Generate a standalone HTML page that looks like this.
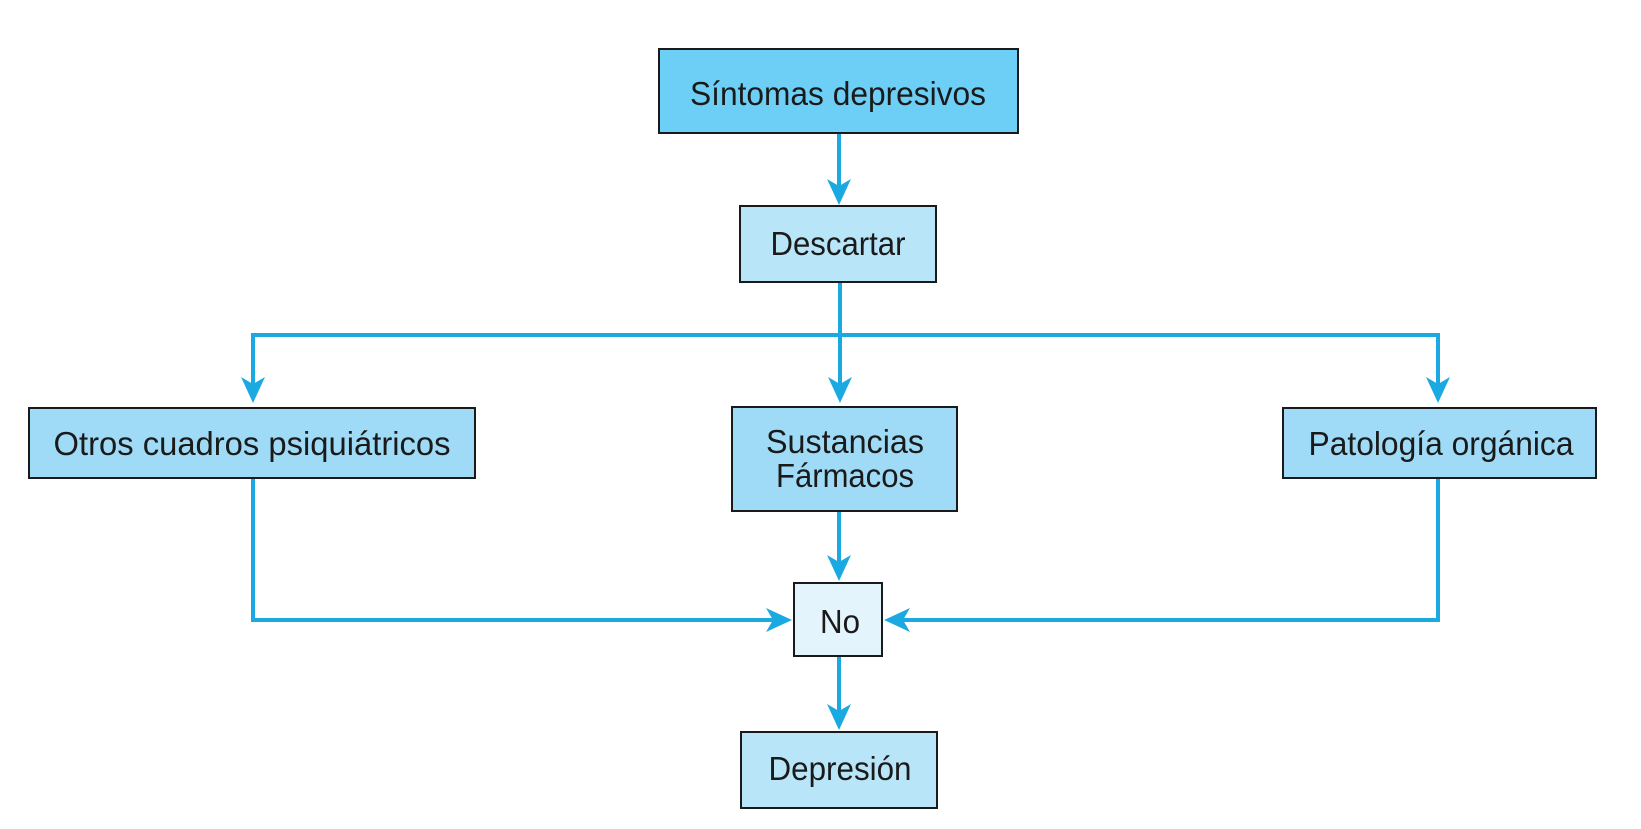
<!DOCTYPE html>
<html><head><meta charset="utf-8"><style>
html,body{margin:0;padding:0;background:#fff;}
svg{display:block;}
text{font-family:"Liberation Sans Narrow","Liberation Sans",sans-serif;font-size:33px;fill:#1a1a1a;}
</style></head><body>
<svg width="1641" height="829" viewBox="0 0 1641 829" xmlns="http://www.w3.org/2000/svg">
<defs>
<path id="ah" d="M0 0 L-12 -26 L0 -19 L12 -26 Z" fill="#1ba9e1"/>
</defs>
<g stroke="#1ba9e1" stroke-width="4" fill="none">
<line x1="839" y1="134" x2="839" y2="195"/>
<line x1="840" y1="282" x2="840" y2="390"/>
<polyline points="253,398 253,335 1438,335 1438,398"/>
<line x1="839" y1="511" x2="839" y2="570"/>
<polyline points="253,478 253,620 780,620"/>
<polyline points="1438,478 1438,620 900,620"/>
<line x1="839" y1="656" x2="839" y2="718"/>
</g>
<use href="#ah" transform="translate(839,205)"/>
<use href="#ah" transform="translate(840,403)"/>
<use href="#ah" transform="translate(253,403)"/>
<use href="#ah" transform="translate(1438,403)"/>
<use href="#ah" transform="translate(839,581)"/>
<use href="#ah" transform="translate(839,730)"/>
<use href="#ah" transform="translate(792,620) rotate(-90)"/>
<use href="#ah" transform="translate(884,620) rotate(90)"/>
<g stroke="#1a1a1a" stroke-width="2">
<rect x="659" y="49" width="359" height="84" fill="#6dcff6"/>
<rect x="740" y="206" width="196" height="76" fill="#b9e5f9"/>
<rect x="29" y="408" width="446" height="70" fill="#9fdbf6"/>
<rect x="732" y="407" width="225" height="104" fill="#9fdbf6"/>
<rect x="1283" y="408" width="313" height="70" fill="#9fdbf6"/>
<rect x="794" y="583" width="88" height="73" fill="#e3f4fc"/>
<rect x="741" y="732" width="196" height="76" fill="#b9e5f9"/>
</g>
<text x="838" y="105" text-anchor="middle" textLength="296" lengthAdjust="spacingAndGlyphs">Síntomas depresivos</text>
<text x="838" y="255" text-anchor="middle" textLength="135" lengthAdjust="spacingAndGlyphs">Descartar</text>
<text x="252" y="455" text-anchor="middle" textLength="397" lengthAdjust="spacingAndGlyphs">Otros cuadros psiquiátricos</text>
<text x="845" y="453" text-anchor="middle" textLength="158" lengthAdjust="spacingAndGlyphs">Sustancias</text>
<text x="845" y="487" text-anchor="middle" textLength="138" lengthAdjust="spacingAndGlyphs">Fármacos</text>
<text x="1441" y="455" text-anchor="middle" textLength="265" lengthAdjust="spacingAndGlyphs">Patología orgánica</text>
<text x="840" y="633" text-anchor="middle" textLength="40" lengthAdjust="spacingAndGlyphs">No</text>
<text x="840" y="780" text-anchor="middle" textLength="143" lengthAdjust="spacingAndGlyphs">Depresión</text>
</svg>
</body></html>
